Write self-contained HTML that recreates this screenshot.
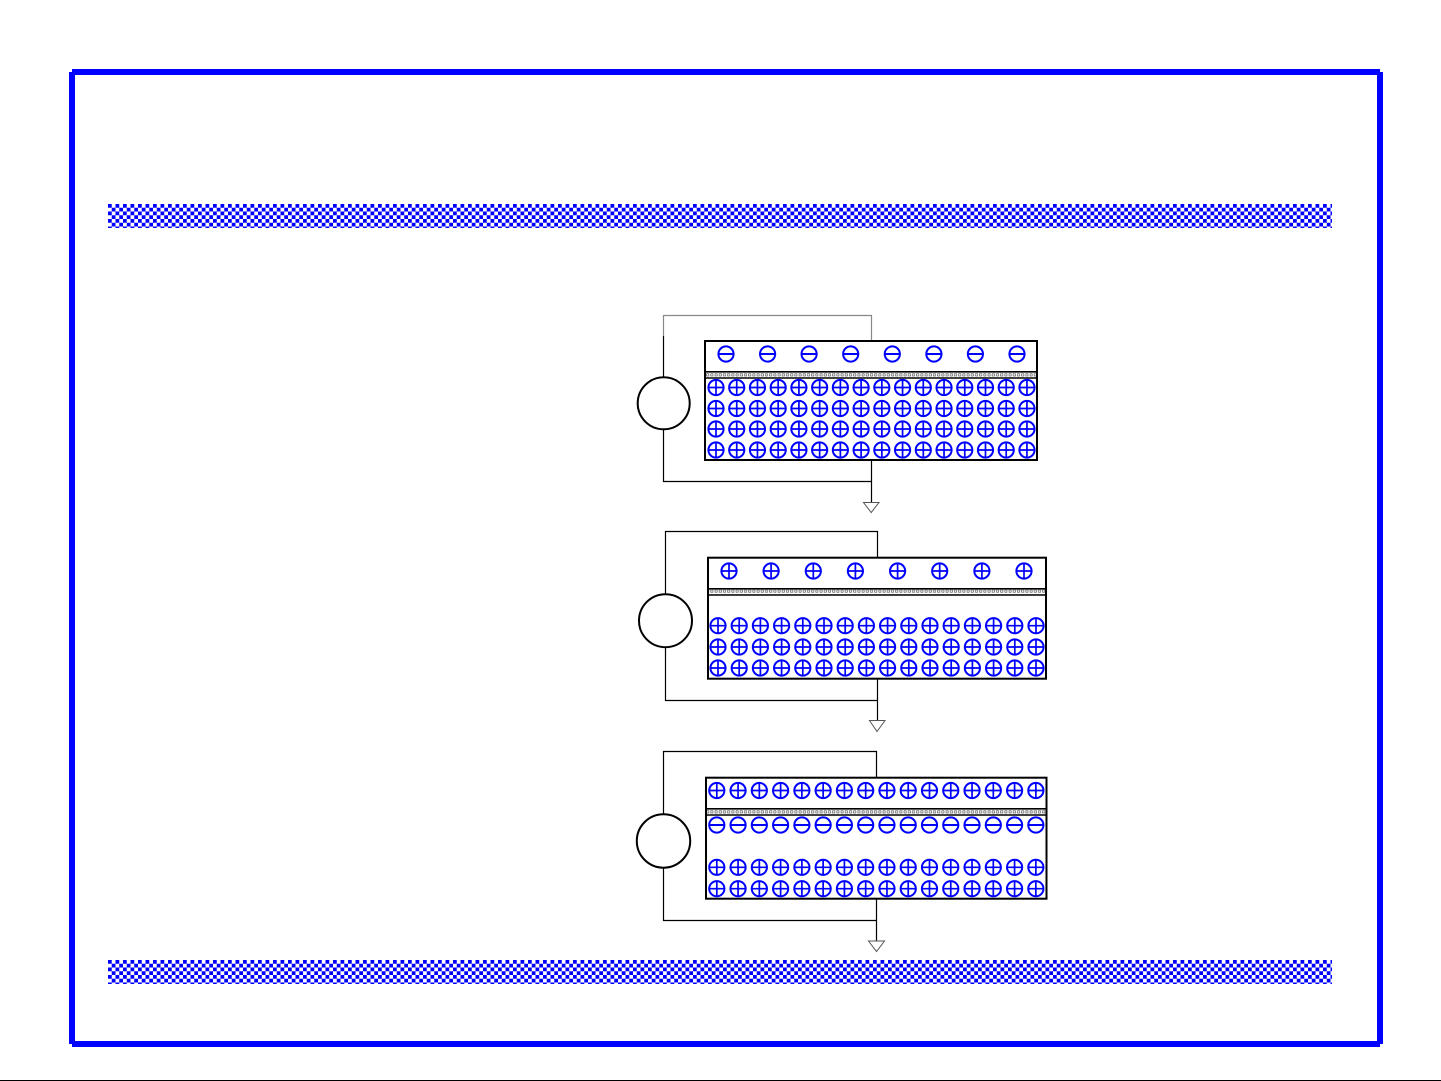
<!DOCTYPE html>
<html><head><meta charset="utf-8"><style>html,body{margin:0;padding:0;background:#fff;width:1441px;height:1081px;overflow:hidden}svg{display:block}</style></head><body>
<svg width="1441" height="1081" viewBox="0 0 1441 1081" xmlns="http://www.w3.org/2000/svg">
<defs>
<pattern id="chk" width="7.5" height="7.5" patternUnits="userSpaceOnUse" x="108" y="204"><rect width="7.5" height="7.5" fill="#fff"/><rect width="3.75" height="3.75" fill="#00f"/><rect x="3.75" y="3.75" width="3.75" height="3.75" fill="#00f"/></pattern>
<pattern id="chk2" width="7.5" height="7.5" patternUnits="userSpaceOnUse" x="108" y="960"><rect width="7.5" height="7.5" fill="#fff"/><rect width="3.75" height="3.75" fill="#00f"/><rect x="3.75" y="3.75" width="3.75" height="3.75" fill="#00f"/></pattern>
<pattern id="bead" width="4.2" height="4.6" patternUnits="userSpaceOnUse"><rect width="4.2" height="4.6" fill="#fff"/><rect x="1" y="1.2" width="2.2" height="2.2" fill="#fff" stroke="#444" stroke-width=".6"/></pattern>
<g id="p"><circle r="7.6" fill="#fff" stroke="#00f" stroke-width="2"/><path d="M-7.4 0H7.4M0-7.4V7.4" stroke="#00f" stroke-width="1.7" fill="none"/></g>
<g id="m"><circle r="7.6" fill="#fff" stroke="#00f" stroke-width="2"/><path d="M-7.4 0H7.4" stroke="#00f" stroke-width="2" fill="none"/></g>
<g id="r1"><use href="#p" x="0"/><use href="#p" x="20.73"/><use href="#p" x="41.46"/><use href="#p" x="62.19"/><use href="#p" x="82.92"/><use href="#p" x="103.65"/><use href="#p" x="124.38"/><use href="#p" x="145.11"/><use href="#p" x="165.84"/><use href="#p" x="186.57"/><use href="#p" x="207.3"/><use href="#p" x="228.03"/><use href="#p" x="248.76"/><use href="#p" x="269.49"/><use href="#p" x="290.22"/><use href="#p" x="310.95"/></g>
<g id="r2"><use href="#p" x="0"/><use href="#p" x="21.2"/><use href="#p" x="42.4"/><use href="#p" x="63.6"/><use href="#p" x="84.8"/><use href="#p" x="106"/><use href="#p" x="127.2"/><use href="#p" x="148.4"/><use href="#p" x="169.6"/><use href="#p" x="190.8"/><use href="#p" x="212"/><use href="#p" x="233.2"/><use href="#p" x="254.4"/><use href="#p" x="275.6"/><use href="#p" x="296.8"/><use href="#p" x="318"/></g>
<g id="r3"><use href="#p" x="0"/><use href="#p" x="21.27"/><use href="#p" x="42.54"/><use href="#p" x="63.81"/><use href="#p" x="85.08"/><use href="#p" x="106.35"/><use href="#p" x="127.62"/><use href="#p" x="148.89"/><use href="#p" x="170.16"/><use href="#p" x="191.43"/><use href="#p" x="212.7"/><use href="#p" x="233.97"/><use href="#p" x="255.24"/><use href="#p" x="276.51"/><use href="#p" x="297.78"/><use href="#p" x="319.05"/></g>
<g id="r3m"><use href="#m" x="0"/><use href="#m" x="21.27"/><use href="#m" x="42.54"/><use href="#m" x="63.81"/><use href="#m" x="85.08"/><use href="#m" x="106.35"/><use href="#m" x="127.62"/><use href="#m" x="148.89"/><use href="#m" x="170.16"/><use href="#m" x="191.43"/><use href="#m" x="212.7"/><use href="#m" x="233.97"/><use href="#m" x="255.24"/><use href="#m" x="276.51"/><use href="#m" x="297.78"/><use href="#m" x="319.05"/></g>
</defs>
<rect width="1441" height="1081" fill="#fff"/>
<!-- frame -->
<rect x="72" y="69" width="1308" height="6" fill="#00f"/>
<rect x="69" y="72" width="6" height="972" fill="#00f"/>
<rect x="1377" y="72" width="6" height="972" fill="#00f"/>
<rect x="72" y="1041" width="1308" height="6" fill="#00f"/>
<!-- bands -->
<rect x="108" y="204" width="1224" height="24" fill="url(#chk)"/>
<rect x="108" y="960" width="1224" height="24" fill="url(#chk2)"/>
<rect x="0" y="1080" width="1441" height="1" fill="#000"/>
<!-- diagram 1 -->
<g fill="none" stroke="#000" stroke-width="1.2">
<path d="M663.5 336V315.5H871.5V341" stroke="#888"/>
<path d="M663.5 336V378M663.5 429V481.5H871.5M871.5 460V503"/>
<path d="M863.5 502.5H879L871.2 512.5Z" stroke="#555" stroke-width="1" fill="#fff"/>
</g>
<circle cx="663.7" cy="403.3" r="26" fill="#fff" stroke="#000" stroke-width="2"/>
<rect x="705" y="341" width="332" height="119" fill="#fff" stroke="#000" stroke-width="2"/>
<rect x="706" y="373" width="330" height="4.6" fill="url(#bead)"/>
<path d="M705 371.8H1037M705 378H1037" stroke="#000" stroke-width="1.6"/>
<use href="#m" x="726" y="354"/><use href="#m" x="767.6" y="354"/><use href="#m" x="809.1" y="354"/><use href="#m" x="850.7" y="354"/><use href="#m" x="892.3" y="354"/><use href="#m" x="933.9" y="354"/><use href="#m" x="975.4" y="354"/><use href="#m" x="1017" y="354"/>
<use href="#r1" x="716" y="387.5"/><use href="#r1" x="716" y="408.5"/><use href="#r1" x="716" y="429"/><use href="#r1" x="716" y="450"/>
<!-- diagram 2 -->
<g fill="none" stroke="#000" stroke-width="1.2">
<path d="M665.5 594V531.5H877.5V557M665.5 647V700.5H877.5M877.5 679V721"/>
<path d="M869.5 720.5H885L877 731.5Z" stroke="#555" stroke-width="1" fill="#fff"/>
</g>
<circle cx="665.5" cy="620.7" r="26.5" fill="#fff" stroke="#000" stroke-width="2"/>
<rect x="708" y="557.7" width="338" height="121" fill="#fff" stroke="#000" stroke-width="2"/>
<rect x="709" y="589.7" width="336" height="4.6" fill="url(#bead)"/>
<path d="M708 588.8H1046M708 595H1046" stroke="#000" stroke-width="1.6"/>
<use href="#p" x="729" y="571"/><use href="#p" x="771.1" y="571"/><use href="#p" x="813.3" y="571"/><use href="#p" x="855.4" y="571"/><use href="#p" x="897.6" y="571"/><use href="#p" x="939.7" y="571"/><use href="#p" x="981.9" y="571"/><use href="#p" x="1024" y="571"/>
<use href="#r2" x="718" y="625.7"/><use href="#r2" x="718" y="647"/><use href="#r2" x="718" y="668"/>
<!-- diagram 3 -->
<g fill="none" stroke="#000" stroke-width="1.2">
<path d="M663.5 815V751.5H876.5V777M663.5 868V920.5H876.5M876.5 899V941"/>
<path d="M868.5 941H884.5L876.5 951.5Z" stroke="#555" stroke-width="1" fill="#fff"/>
</g>
<circle cx="663.5" cy="841" r="26.7" fill="#fff" stroke="#000" stroke-width="2"/>
<rect x="706" y="777.7" width="340.5" height="121" fill="#fff" stroke="#000" stroke-width="2"/>
<rect x="707" y="809.7" width="338.5" height="4.6" fill="url(#bead)"/>
<path d="M706 808.8H1046.5M706 815H1046.5" stroke="#000" stroke-width="1.6"/>
<use href="#r3" x="716.8" y="790.5"/>
<use href="#r3m" x="716.8" y="825"/>
<use href="#r3" x="716.8" y="867.3"/><use href="#r3" x="716.8" y="888.7"/>
</svg>
</body></html>
